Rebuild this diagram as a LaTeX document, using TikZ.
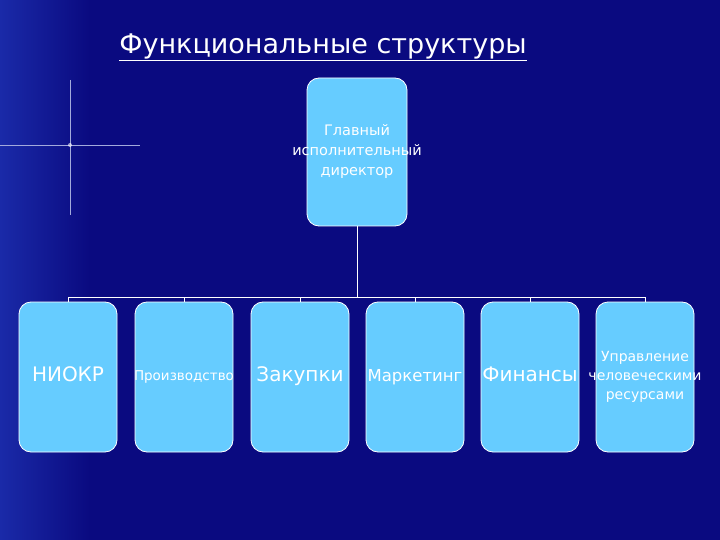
\documentclass[tikz,border=0pt]{standalone}
\usepackage{fontspec}
\setmainfont{DejaVu Sans}
\newcommand{\zw}[1]{\makebox[0pt][c]{\begin{tabular}{@{}c@{}}#1\end{tabular}}}
\begin{document}
\begin{tikzpicture}[x=1pt,y=-1pt,
  box/.style={draw=white,line width=0.8pt,fill=boxblue,rounded corners=12pt,text=white,align=center,inner sep=0pt,minimum width=98pt,minimum height=150pt},
  conn/.style={draw=white,line width=1pt}]
\definecolor{bg}{HTML}{0A0A80}
\definecolor{bgl}{HTML}{1A2AA8}
\definecolor{boxblue}{HTML}{66CCFF}
\useasboundingbox (0,0) rectangle (720,540);
\fill[bg] (0,0) rectangle (720,540);
\shade[left color=bgl,right color=bg] (0,0) rectangle (90,540);
% flare
\draw[white!60!bgl,line width=0.8pt] (0,145) -- (140,145);
\draw[white!60!bgl,line width=0.8pt] (70,80) -- (70,215);
\fill[white,opacity=0.6] (70,145) circle (2pt);
\node[text=white,font=\fontsize{27}{32}\selectfont] (title) at (323,47) {\underline{Функциональные структуры}};
\node[box,minimum width=100pt,minimum height=148pt,font=\fontsize{14.5}{20}\selectfont] (top) at (357,152) {\zw{Главный\\исполнительный\\директор}};
\node[box,font=\fontsize{20}{24}\selectfont] (b1) at (68,377) {\zw{НИОКР}};
\node[box,font=\fontsize{13.5}{16}\selectfont] (b2) at (184,377) {\zw{Производство}};
\node[box,font=\fontsize{20}{24}\selectfont] (b3) at (300,377) {\zw{Закупки}};
\node[box,font=\fontsize{16.5}{20}\selectfont] (b4) at (415,377) {\zw{Маркетинг}};
\node[box,font=\fontsize{20}{24}\selectfont] (b5) at (530,377) {\zw{Финансы}};
\node[box,font=\fontsize{14}{19}\selectfont] (b6) at (645,377) {\zw{Управление\\человеческими\\ресурсами}};
\coordinate (j) at (357,297);
\draw[conn] (top.south) -- (j);
\foreach \b in {b1,b2,b3,b4,b5,b6}{\draw[conn] (j) -| (\b.north);}
\end{tikzpicture}
\end{document}
